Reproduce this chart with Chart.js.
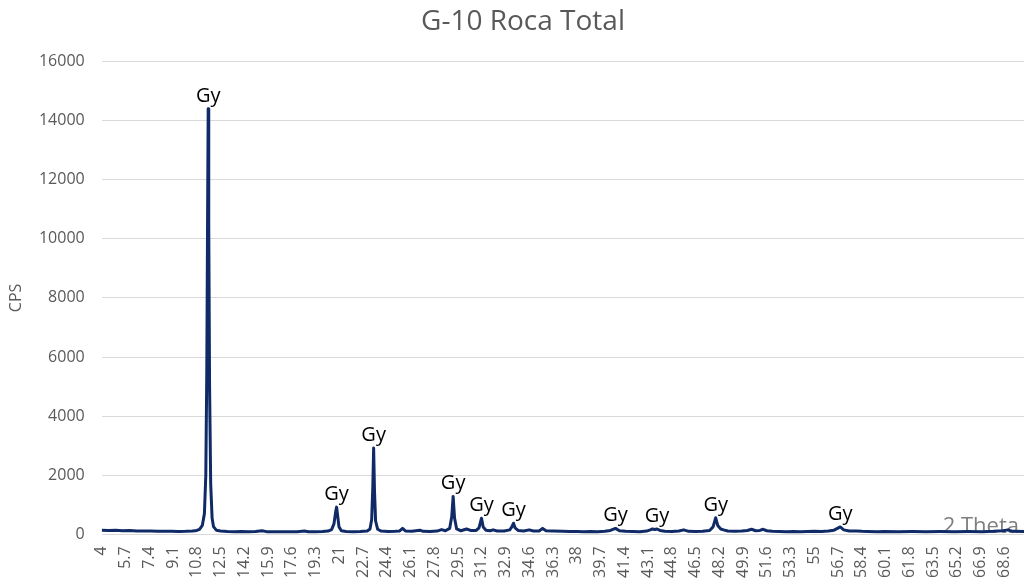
<!DOCTYPE html>
<html>
<head>
<meta charset="utf-8">
<script src="https://cdn.jsdelivr.net/npm/chart.js@4"></script>
<style>
  html, body { margin: 0; padding: 0; background: #fff; }
  #wrap { width: 1024px; height: 581px; }
</style>
</head>
<body>
<div id="wrap"><canvas id="chart"></canvas></div>
<script>
// diffractogram: 2 theta (deg) and counts per second
const twoTheta = [
  4.0, 4.5, 5.0, 5.5, 6.0, 6.5, 7.0, 7.5, 8.0, 8.5, 9.0, 9.5, 10.0, 10.5, 10.8,
  11.0, 11.2, 11.35, 11.45, 11.52, 11.58, 11.62, 11.66, 11.72, 11.8, 11.9, 12.0, 12.2, 12.5,
  13.0, 13.5, 14.0, 14.5, 15.0, 15.47, 15.8, 16.5, 17.0, 17.5, 18.0, 18.5, 18.8, 19.3, 19.8,
  20.2, 20.45, 20.62, 20.74, 20.81, 20.88, 20.98, 21.15, 21.5, 22.0, 22.5,
  23.0, 23.2, 23.32, 23.4, 23.46, 23.52, 23.6, 23.75, 24.0, 24.5, 25.0, 25.3, 25.53, 25.75,
  26.2, 26.77, 27.0, 27.5, 28.0, 28.32, 28.6, 28.9, 29.05, 29.15, 29.25, 29.4, 29.7,
  30.11, 30.4, 30.8, 31.0, 31.18, 31.3, 31.5, 31.8, 32.01, 32.3, 32.8,
  33.2, 33.35, 33.47, 33.58, 33.8, 34.2, 34.59, 34.9, 35.3, 35.55, 35.8, 36.3,
  37.0, 37.5, 38.0, 38.5, 39.0, 39.5, 40.0, 40.4, 40.77, 41.05, 41.5, 42.0, 42.5,
  43.0, 43.25, 43.41, 43.57, 43.74, 43.95, 44.3, 44.8, 45.3, 45.65, 46.0, 46.5,
  47.0, 47.5, 47.75, 47.94, 48.08, 48.3, 48.5, 48.8, 49.3, 49.8,
  50.2, 50.5, 50.8, 51.1, 51.33, 51.6, 52.0, 52.5, 53.0, 53.5, 54.0, 54.5, 55.0, 55.5,
  56.0, 56.4, 56.65, 56.85, 57.1, 57.5, 58.0, 58.4, 58.8, 59.5,
  60.0, 61.0, 62.0, 63.0, 64.0, 65.0, 66.0, 67.0, 67.8, 68.5, 68.85, 69.2, 70.0
];
const cps = [
  140, 130, 135, 120, 125, 115, 110, 112, 105, 100, 100, 98, 100, 110, 130,
  170, 300, 700, 2000, 5500, 11000, 14400, 10500, 5000, 1700, 550, 260, 140, 110,
  95, 90, 95, 90, 92, 120, 90, 85, 90, 85, 88, 110, 88, 90, 95,
  110, 160, 350, 750, 920, 650, 250, 120, 95, 90, 95,
  110, 180, 500, 1600, 2920, 1500, 450, 170, 110, 95, 100, 110, 200, 110,
  100, 140, 100, 95, 110, 160, 120, 200, 600, 1280, 550, 180, 120,
  180, 130, 130, 220, 545, 250, 140, 120, 150, 110, 110,
  150, 250, 375, 220, 130, 110, 150, 110, 110, 200, 120, 110,
  100, 95, 95, 90, 95, 90, 100, 130, 200, 120, 100, 95, 90,
  110, 150, 180, 160, 180, 130, 100, 95, 110, 150, 100, 95,
  100, 130, 250, 560, 300, 180, 150, 110, 100, 110,
  130, 170, 120, 130, 170, 120, 100, 95, 90, 95, 90, 95, 100, 95,
  110, 140, 200, 250, 150, 110, 110, 100, 95, 90,
  95, 90, 95, 90, 95, 90, 95, 90, 100, 120, 150, 100, 95
];

// category labels shown under the axis
const xTickValues = [
  4, 5.7, 7.4, 9.1, 10.8, 12.5, 14.2, 15.9, 17.6, 19.3, 21, 22.7, 24.4, 26.1, 27.8,
  29.5, 31.2, 32.9, 34.6, 36.3, 38, 39.7, 41.4, 43.1, 44.8, 46.5, 48.2, 49.9, 51.6,
  53.3, 55, 56.7, 58.4, 60.1, 61.8, 63.5, 65.2, 66.9, 68.6
];

// gypsum reflections that carry a "Gy" tag
const gyPeaks = [11.62, 20.81, 23.46, 29.15, 31.18, 33.47, 40.77, 43.74, 47.94, 56.85];

const FONT = "'Open Sans', 'Noto Sans', sans-serif";
const GREY = '#595959';

const peakLabels = {
  id: 'peakLabels',
  afterDatasetsDraw(chart) {
    const { ctx, scales: { x, y } } = chart;
    ctx.save();
    ctx.font = '20px ' + FONT;
    ctx.fillStyle = '#000';
    ctx.textAlign = 'center';
    ctx.textBaseline = 'alphabetic';
    gyPeaks.forEach(p => {
      const i = twoTheta.indexOf(p);
      if (i < 0) return;
      ctx.fillText('Gy', x.getPixelForValue(p), y.getPixelForValue(cps[i]) - 7);
    });
    ctx.restore();
  }
};

// Excel style title + the "2 Theta" axis title sitting inside the plot
const extraText = {
  id: 'extraText',
  beforeDatasetsDraw(chart) {
    const { ctx, chartArea } = chart;
    ctx.save();
    ctx.font = '22px ' + FONT;
    ctx.fillStyle = '#7f7f7f';
    ctx.textAlign = 'right';
    ctx.textBaseline = 'alphabetic';
    ctx.fillText('2 Theta', chartArea.right - 5, chartArea.bottom - 1);
    ctx.restore();
  },
  afterDraw(chart) {
    const { ctx } = chart;
    ctx.save();
    ctx.font = '28px ' + FONT;
    ctx.fillStyle = GREY;
    ctx.textAlign = 'center';
    ctx.textBaseline = 'middle';
    ctx.fillText('G-10 Roca Total', 523, 22);
    ctx.restore();
  }
};

new Chart(document.getElementById('chart'), {
  type: 'line',
  data: {
    datasets: [{
      data: twoTheta.map((t, i) => ({ x: t, y: cps[i] })),
      borderColor: '#0f2a66',
      borderWidth: 3,
      pointRadius: 0,
      tension: 0,
      borderJoinStyle: 'round'
    }]
  },
  options: {
    responsive: true,
    maintainAspectRatio: false,
    animation: false,
    layout: { padding: { top: 61.5, right: 0, left: 0, bottom: 0 } },
    plugins: {
      legend: { display: false },
      tooltip: { enabled: false }
    },
    scales: {
      x: {
        type: 'linear',
        min: 4,
        max: 70,
        afterBuildTicks: scale => { scale.ticks = xTickValues.map(v => ({ value: v })); },
        afterFit: scale => {
          scale.height = 46.7;
          scale.paddingLeft = 0;
          scale.paddingRight = 0;
        },
        grid: { display: false, drawTicks: false },
        border: { display: false },
        ticks: {
          autoSkip: false,
          minRotation: 90,
          maxRotation: 90,
          padding: 12,
          color: GREY,
          font: { family: FONT, size: 16 },
          callback: v => String(v)
        }
      },
      y: {
        min: 0,
        max: 16000,
        afterFit: scale => { scale.width = 101.7; },
        grid: { color: '#d9d9d9', drawTicks: false },
        border: { display: false },
        ticks: {
          stepSize: 2000,
          padding: 17,
          color: GREY,
          font: { family: FONT, size: 16 },
          callback: v => String(v)
        },
        title: {
          display: true,
          text: 'CPS',
          color: GREY,
          font: { family: FONT, size: 16 },
          padding: { top: 7, bottom: 0 }
        }
      }
    }
  },
  plugins: [peakLabels, extraText]
});
</script>
</body>
</html>
